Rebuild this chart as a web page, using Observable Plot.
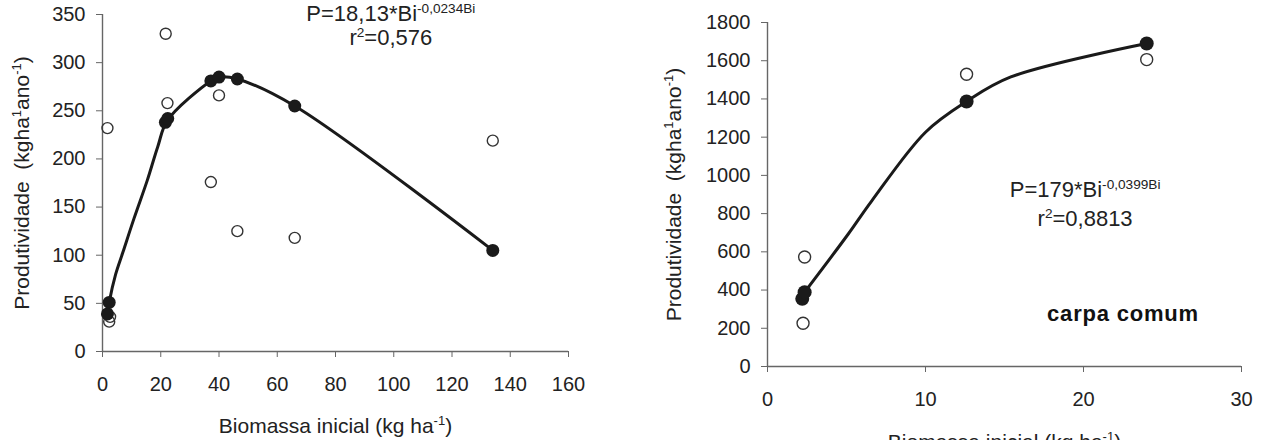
<!DOCTYPE html>
<html><head><meta charset="utf-8">
<script src="https://cdn.jsdelivr.net/npm/d3@7"></script>
<script src="https://cdn.jsdelivr.net/npm/@observablehq/plot@0.6"></script>
<style>
html,body{margin:0;padding:0;background:#fff;}
#wrap{position:relative;width:1283px;height:440px;overflow:hidden;background:#fff;}
#left{position:absolute;left:0;top:0;}
#right{position:absolute;left:660px;top:0;}
svg{overflow:visible;}
</style></head><body>
<div id="wrap"><div id="left"></div><div id="right"></div></div>
<script>
// ---------- Left panel data ----------
const leftXTicks = [0, 20, 40, 60, 80, 100, 120, 140, 160];
const leftYTicks = [0, 50, 100, 150, 200, 250, 300, 350];
const leftObsX = [1.7, 2.3, 2.6, 21.7, 22.3, 37.2, 40.0, 46.3, 66.0, 134.0];
const leftObsY = [232, 31, 36, 330, 258, 176, 266, 125, 118, 219];
const leftFitX = [1.7, 2.3, 21.6, 22.4, 37.2, 40.0, 46.3, 66.0, 134.0];
const leftFitY = [39, 51, 238, 242, 281, 285, 283, 255, 105];
const leftCurveX = [1.7, 2.3, 4.5, 7.0, 10.8, 15.4, 19.0, 22.3, 37.2, 40.0, 46.3, 66.0, 134.0];
const leftCurveY = [39, 51, 80, 103, 138, 178, 213, 240, 281, 285, 283, 255, 105];
const leftEquation = ["P=18,13*Bi^{-0,0234Bi}", "r^{2}=0,576"];

// ---------- Right panel data ----------
const rightXTicks = [0, 10, 20, 30];
const rightYTicks = [0, 200, 400, 600, 800, 1000, 1200, 1400, 1600, 1800];
const rightObsX = [2.25, 2.35, 12.6, 24.0];
const rightObsY = [226, 573, 1529, 1606];
const rightFitX = [2.2, 2.35, 12.6, 24.0];
const rightFitY = [354, 389, 1387, 1690];
const rightCurveX = [2.35, 5.1, 6.6, 10.0, 12.6, 15.4, 24.0];
const rightCurveY = [389, 692, 867, 1226, 1387, 1515, 1690];
const rightEquation = ["P=179*Bi^{-0,0399Bi}", "r^{2}=0,8813"];
const rightSpecies = "carpa comum";

// ---------- Shared text ----------
const xLabel = "Biomassa inicial (kg ha^{-1})";
const yLabel = "Produtividade\u00a0 (kgha^{1}ano^{-1})";

const zip = (xs, ys) => xs.map((x, i) => ({x, y: ys[i]}));
const font = "'Liberation Sans', Arial, Helvetica, sans-serif";
const ink = "#1a1a1a";
const axisGray = "#666";

function panel({width, height, margins, xDomain, yDomain, xTicks, yTicks, obs, fit, curve, eq, eqPos, extra, xLabelDy, yLabelDx, rFit, rObs}) {
  const eqRows = eq.map((t, i) => ({t, x: eqPos.x, y: eqPos.y[i]}));
  return Plot.plot({
    width, height,
    ...margins,
    style: {fontFamily: font, fontSize: "20px", color: "#222", background: "white", overflow: "visible"},
    x: {domain: xDomain},
    y: {domain: yDomain},
    marks: [
      Plot.axisX({ticks: xTicks, tickSize: 6, tickPadding: 19, stroke: axisGray, label: null, tickFormat: d => String(d)}),
      Plot.axisY({ticks: yTicks, tickSize: 6, tickPadding: 11, stroke: axisGray, label: null, tickFormat: d => String(d)}),
      Plot.ruleY([yDomain[0]], {stroke: axisGray, strokeWidth: 1.4}),
      Plot.ruleX([xDomain[0]], {stroke: axisGray, strokeWidth: 1.4}),
      Plot.dot(obs, {x: "x", y: "y", r: rObs, stroke: "#333", strokeWidth: 1.4, fill: "none"}),
      Plot.line(curve, {x: "x", y: "y", curve: "catmull-rom", stroke: ink, strokeWidth: 3}),
      Plot.dot(fit, {x: "x", y: "y", r: rFit, fill: ink, stroke: "none"}),
      Plot.text(eqRows, {x: "x", y: "y", text: "t", lineAnchor: "bottom", textAnchor: "middle", fontSize: 22, fill: "#222"}),
      ...(extra || []),
      Plot.text([xLabel], {frameAnchor: "bottom", dy: xLabelDy, lineAnchor: "bottom", textAnchor: "middle", text: d => d, fontSize: 21, fill: "#222"}),
      Plot.text([yLabel], {frameAnchor: "left", dx: yLabelDx, rotate: -90, lineAnchor: "middle", textAnchor: "middle", text: d => d, fontSize: 21, fill: "#222"})
    ]
  });
}

function addSuperscripts(svg) {
  const els = Array.from(svg.querySelectorAll("text, tspan"))
    .filter(el => el.children.length === 0 && el.textContent.includes("^{"));
  for (const el of els) {
    const s = el.textContent;
    const fs = parseFloat(getComputedStyle(el).fontSize) || 20;
    const raise = fs * 0.38;
    const supSize = fs * 0.62;
    el.textContent = "";
    const parts = s.split(/\^\{([^}]*)\}/);
    let shifted = false;
    parts.forEach((p, i) => {
      if (p === "") return;
      const ts = document.createElementNS("http://www.w3.org/2000/svg", "tspan");
      ts.textContent = p;
      if (i % 2 === 1) { ts.setAttribute("font-size", supSize); ts.setAttribute("dy", -raise); shifted = true; }
      else if (shifted) { ts.setAttribute("dy", raise); shifted = false; }
      el.appendChild(ts);
    });
  }
}

const leftSvg = panel({
  width: 640, height: 440,
  margins: {marginLeft: 102, marginRight: 72, marginTop: 14, marginBottom: 89},
  xDomain: [0, 160], yDomain: [0, 350], xTicks: leftXTicks, yTicks: leftYTicks,
  obs: zip(leftObsX, leftObsY), fit: zip(leftFitX, leftFitY), curve: zip(leftCurveX, leftCurveY),
  eq: leftEquation, eqPos: {x: 99, y: [343, 318]},
  xLabelDy: 81, yLabelDx: -80, rFit: 6.5, rObs: 5.5
});
const rightSvg = panel({
  width: 623, height: 440,
  margins: {marginLeft: 107, marginRight: 42, marginTop: 22, marginBottom: 74},
  xDomain: [0, 30], yDomain: [0, 1800], xTicks: rightXTicks, yTicks: rightYTicks,
  obs: zip(rightObsX, rightObsY), fit: zip(rightFitX, rightFitY), curve: zip(rightCurveX, rightCurveY),
  eq: rightEquation, eqPos: {x: 20.1, y: [886, 733]},
  extra: [Plot.text([{t: rightSpecies, x: 22.5, y: 240}], {x: "x", y: "y", text: "t", lineAnchor: "bottom", textAnchor: "middle", fontSize: 22, fontWeight: "bold", fill: "#111"})],
  xLabelDy: 82, yLabelDx: -93, rFit: 7, rObs: 6
});
document.getElementById("left").appendChild(leftSvg);
document.getElementById("right").appendChild(rightSvg);
addSuperscripts(leftSvg);
addSuperscripts(rightSvg);
rightSvg.querySelectorAll("text").forEach(t => { if (t.textContent === rightSpecies) t.style.letterSpacing = "0.8px"; });
</script>
</body></html>
